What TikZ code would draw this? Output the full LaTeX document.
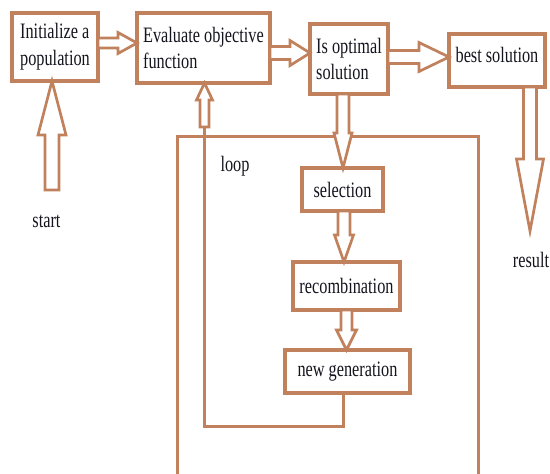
\documentclass[tikz,border=0pt]{standalone}
\usepackage{fontspec}
\setmainfont[FakeStretch=0.74]{Liberation Serif}
\usetikzlibrary{calc}
\definecolor{brn}{RGB}{192,129,92}
\definecolor{txt}{RGB}{20,20,30}
\begin{document}
\begin{tikzpicture}[x=1pt,y=-1pt,
  box/.style={draw=brn, line width=3.3pt, rectangle, outer sep=0pt, inner sep=0pt, align=left, text=txt, font=\fontsize{22}{26.7}\selectfont},
  lbl/.style={text=txt, font=\fontsize{22}{26.7}\selectfont, inner sep=0pt},
  hollow/.style n args={3}{draw=brn, fill=white, line width=2.7pt, line join=miter,
    to path={($(\tikztostart)!#1!90:(\tikztotarget)$)
      -- ($(\tikztotarget)!#3!(\tikztostart)!#1!-90:(\tikztostart)$)
      -- ($(\tikztotarget)!#3!(\tikztostart)!#2!-90:(\tikztostart)$)
      -- (\tikztotarget)
      -- ($(\tikztotarget)!#3!(\tikztostart)!#2!90:(\tikztostart)$)
      -- ($(\tikztotarget)!#3!(\tikztostart)!#1!90:(\tikztostart)$)
      -- ($(\tikztostart)!#1!-90:(\tikztotarget)$)
      -- cycle}},
  thinline/.style={draw=brn, line width=3pt}]
\useasboundingbox (0,0) rectangle (550,474);

% loop frame
\draw[thinline] (177,474) -- (177,136) -- (478,136) -- (478,474);

\node[box, minimum width=86pt, minimum height=68pt] (init) at (55,47) {Initialize a\\population};
\node[box, minimum width=133pt, minimum height=70pt] (eval) at (203.5,48) {Evaluate objective\\function};
\node[box, minimum width=78pt, minimum height=70pt] (opt) at (349,59) {Is optimal\\solution};
\node[box, minimum width=96pt, minimum height=53pt, text depth=12pt] (best) at (497,60.5) {best solution};
\node[box, minimum width=81pt, minimum height=43pt] (sel) at (342.5,189.5) {selection};
\node[box, minimum width=107pt, minimum height=48pt] (rec) at (346.5,286) {recombination};
\node[box, minimum width=125pt, minimum height=43pt] (gen) at (347.5,371.5) {new generation};

\node[lbl] (loop) at (235,166) {loop};
\node[lbl] (start) at (46.5,221) {start};
\node[lbl] (result) at (531,260) {result};

\coordinate (a1s) at ([yshift=4pt]init.east);
\coordinate (a1t) at ([yshift=5pt]eval.west);
\coordinate (a2s) at ([yshift=-5pt]eval.east);
\coordinate (a2t) at ([yshift=6pt]opt.west);
\coordinate (a3s) at ([yshift=2pt]opt.east);
\coordinate (a3t) at ([yshift=3.5pt]best.west);
\coordinate (a4s) at (52,190);
\coordinate (a4t) at ([xshift=-3pt]init.south);
\coordinate (a5s) at ([xshift=33pt]best.south);
\coordinate (a5t) at (530,231);
\coordinate (a6s) at ([xshift=-6pt]opt.south);
\coordinate (a6t) at ([xshift=0.5pt]sel.north);
\coordinate (a7s) at ([xshift=1.5pt]sel.south);
\coordinate (a7t) at ([xshift=-2.5pt]rec.north);
\coordinate (a8s) at (rec.south);
\coordinate (a8t) at ([xshift=-1pt]gen.north);
\coordinate (a9s) at (204.5,127);
\coordinate (a9t) at ([xshift=1pt]eval.south);
\coordinate (lc) at (204.5,426);

% loop back line
\draw[thinline] ([xshift=-4.5pt]gen.south) |- (lc) -- (a9s);

\draw[hollow={5pt}{10.5pt}{19pt}] (a1s) to (a1t);
\draw[hollow={6.5pt}{12.5pt}{20pt}] (a2s) to (a2t);
\draw[hollow={6.5pt}{14.5pt}{30pt}] (a3s) to (a3t);
\draw[hollow={7pt}{14pt}{54pt}] (a4s) to (a4t);
\draw[hollow={6.5pt}{13.5pt}{72pt}] (a5s) to (a5t);
\draw[hollow={6pt}{9pt}{35pt}] (a6s) to (a6t);
\draw[hollow={6pt}{9.5pt}{27pt}] (a7s) to (a7t);
\draw[hollow={5.5pt}{10pt}{20pt}] (a8s) to (a8t);
\draw[hollow={4.5pt}{8pt}{17pt}] (a9s) to (a9t);
\end{tikzpicture}
\end{document}
